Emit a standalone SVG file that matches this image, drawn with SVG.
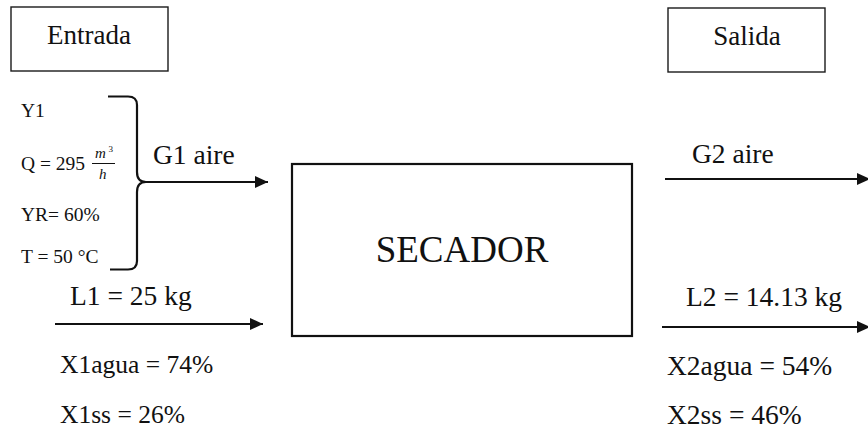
<svg xmlns="http://www.w3.org/2000/svg" width="868" height="432" viewBox="0 0 868 432">
<defs>
<style>
text{font-family:'Liberation Serif',Tinos,'Times New Roman','DejaVu Serif',serif;fill:#111}
.box{fill:#fff;stroke:#1a1a1a;stroke-width:1.4}
.main{fill:#fff;stroke:#111;stroke-width:2.2}
.lbl{font-size:27.5px}
.sm{font-size:19.5px}
.con{stroke:#111;stroke-width:2.2;fill:none}
</style>
<marker id="ah" markerUnits="userSpaceOnUse" markerWidth="14" markerHeight="14" refX="13" refY="6" orient="auto">
<path d="M0,0 L13,6 L0,12 z" fill="#111"/>
</marker>
</defs>
<rect width="868" height="432" fill="#fff"/>

<g id="entrada">
<rect class="box" x="11" y="7" width="157" height="64"/>
<text x="89" y="44" font-size="27" text-anchor="middle">Entrada</text>
</g>

<g id="salida">
<rect class="box" x="668" y="8" width="157" height="64"/>
<text x="747" y="45" font-size="27" text-anchor="middle">Salida</text>
</g>

<g id="secador">
<rect class="main" x="292" y="164" width="340" height="172"/>
<text x="462" y="262" font-size="37" text-anchor="middle">SECADOR</text>
</g>

<g id="g1-props">
<text class="sm" x="21" y="117">Y1</text>
<text class="sm" x="21" y="170">Q = 295</text>
<text x="95" y="158" font-size="15" font-style="italic">m</text>
<text x="108.5" y="152" font-size="9">3</text>
<line x1="92" y1="163.5" x2="115" y2="163.5" stroke="#111" stroke-width="1"/>
<text x="99" y="179" font-size="15" font-style="italic">h</text>
<text class="sm" x="21" y="221">YR= 60%</text>
<text class="sm" x="21" y="263">T = 50 °C</text>
<path class="con" d="M108,96.5 H128 Q137,96.5 137,105 V172 Q137,182 146,182 Q137,182 137,192 V261 Q137,269.5 128,269.5 H110" stroke-width="2.6"/>
</g>

<g id="connectors">
<line class="con" x1="146" y1="182" x2="268" y2="182" marker-end="url(#ah)"/>
<line class="con" x1="55" y1="324" x2="263" y2="324" marker-end="url(#ah)"/>
<line class="con" x1="665" y1="179" x2="870" y2="179" marker-end="url(#ah)"/>
<line class="con" x1="662" y1="327" x2="870" y2="327" marker-end="url(#ah)"/>
</g>

<g id="labels-left">
<text class="lbl" x="153" y="164">G1 aire</text>
<text class="lbl" x="70" y="305">L1 = 25 kg</text>
<text x="60" y="373" font-size="25.5">X1agua = 74%</text>
<text x="60" y="423" font-size="25.5">X1ss = 26%</text>
</g>

<g id="labels-right">
<text class="lbl" x="692" y="163">G2 aire</text>
<text class="lbl" x="686" y="306">L2 = 14.13 kg</text>
<text x="667" y="375" font-size="27.5">X2agua = 54%</text>
<text x="667" y="424" font-size="27.5">X2ss = 46%</text>
</g>
</svg>
